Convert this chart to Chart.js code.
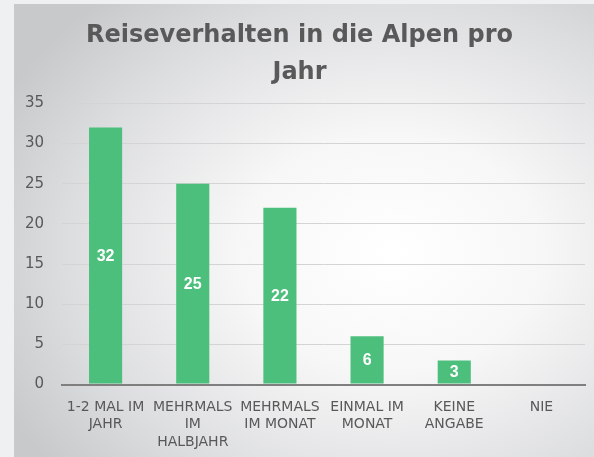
<!DOCTYPE html>
<html>
<head>
<meta charset="utf-8">
<script src="https://cdn.jsdelivr.net/npm/chart.js@4/dist/chart.umd.min.js"></script>
<style>
  html, body { margin: 0; padding: 0; background: #eef0f2; }
  #panel {
    position: absolute; left: 14px; top: 4px; width: 580px; height: 453px;
    background: radial-gradient(ellipse 75% 75% at 65% 55%, #ffffff 0%, #f7f7f7 35%, #dcdddf 75%, #c8c9cb 100%);
  }
</style>
</head>
<body>
<div id="panel"><canvas id="chart"></canvas></div>
<script>
// Reiseverhalten in die Alpen pro Jahr — single bar chart

const CATEGORIES = [
  ['1-2 MAL IM', 'JAHR'],
  ['MEHRMALS', 'IM', 'HALBJAHR'],
  ['MEHRMALS', 'IM MONAT'],
  ['EINMAL IM', 'MONAT'],
  ['KEINE', 'ANGABE'],
  ['NIE'],
];
const VALUES = [32, 25, 22, 6, 3, 0];
const Y_TICKS = [0, 5, 10, 15, 20, 25, 30, 35];
const TITLE = ['Reiseverhalten in die Alpen pro', 'Jahr'];

const COLORS = {
  bar: '#4dbf7c',
  text: '#595959',
  grid: '#d4d4d4',
  axis: '#7f7f7f',
  label: '#ffffff',
};

const FONT = '"DejaVu Sans", sans-serif';
const LABEL_FONT = '"Liberation Sans", Arial, sans-serif';

// draws the value in the middle of each bar, like Excel's "center" data labels
const centerLabels = {
  id: 'centerLabels',
  afterDatasetsDraw(chart) {
    const ctx = chart.ctx;
    const meta = chart.getDatasetMeta(0);
    ctx.save();
    ctx.fillStyle = COLORS.label;
    ctx.font = 'bold 16px ' + LABEL_FONT;
    ctx.textAlign = 'center';
    ctx.textBaseline = 'middle';
    meta.data.forEach((bar, i) => {
      const v = VALUES[i];
      if (!v) return;
      ctx.fillText(String(v), bar.x, (bar.y + bar.base) / 2 + 1);
    });
    ctx.restore();
  },
};

new Chart(document.getElementById('chart'), {
  type: 'bar',
  data: {
    labels: CATEGORIES,
    datasets: [{
      data: VALUES,
      backgroundColor: COLORS.bar,
      borderWidth: 0,
      categoryPercentage: 1,
      barPercentage: 0.38,
    }],
  },
  options: {
    responsive: true,
    maintainAspectRatio: false,
    animation: false,
    layout: { padding: { left: 0, right: 9, top: 6, bottom: 0 } },
    plugins: {
      legend: { display: false },
      tooltip: { enabled: false },
      title: {
        display: true,
        text: TITLE,
        color: COLORS.text,
        font: { family: FONT, size: 24, weight: 'bold', lineHeight: 1.55 },
        padding: { top: 7, bottom: 12 },
      },
    },
    scales: {
      x: {
        grid: { display: false },
        border: { display: true, color: COLORS.axis, width: 2 },
        ticks: {
          color: COLORS.text,
          font: { family: FONT, size: 14, lineHeight: 1.25 },
          maxRotation: 0,
          autoSkip: false,
          padding: 6,
        },
      },
      y: {
        min: 0,
        max: Y_TICKS[Y_TICKS.length - 1],
        afterBuildTicks: axis => { axis.ticks = Y_TICKS.map(v => ({ value: v })); },
        afterFit: axis => { axis.width = 48; },
        border: { display: false },
        grid: {
          color: c => (c.tick && c.tick.value === 0 ? COLORS.axis : COLORS.grid),
          lineWidth: c => (c.tick && c.tick.value === 0 ? 2 : 1),
          drawTicks: false,
        },
        ticks: {
          color: COLORS.text,
          font: { family: FONT, size: 15 },
          padding: 18,
        },
      },
    },
  },
  plugins: [centerLabels],
});
</script>
</body>
</html>
